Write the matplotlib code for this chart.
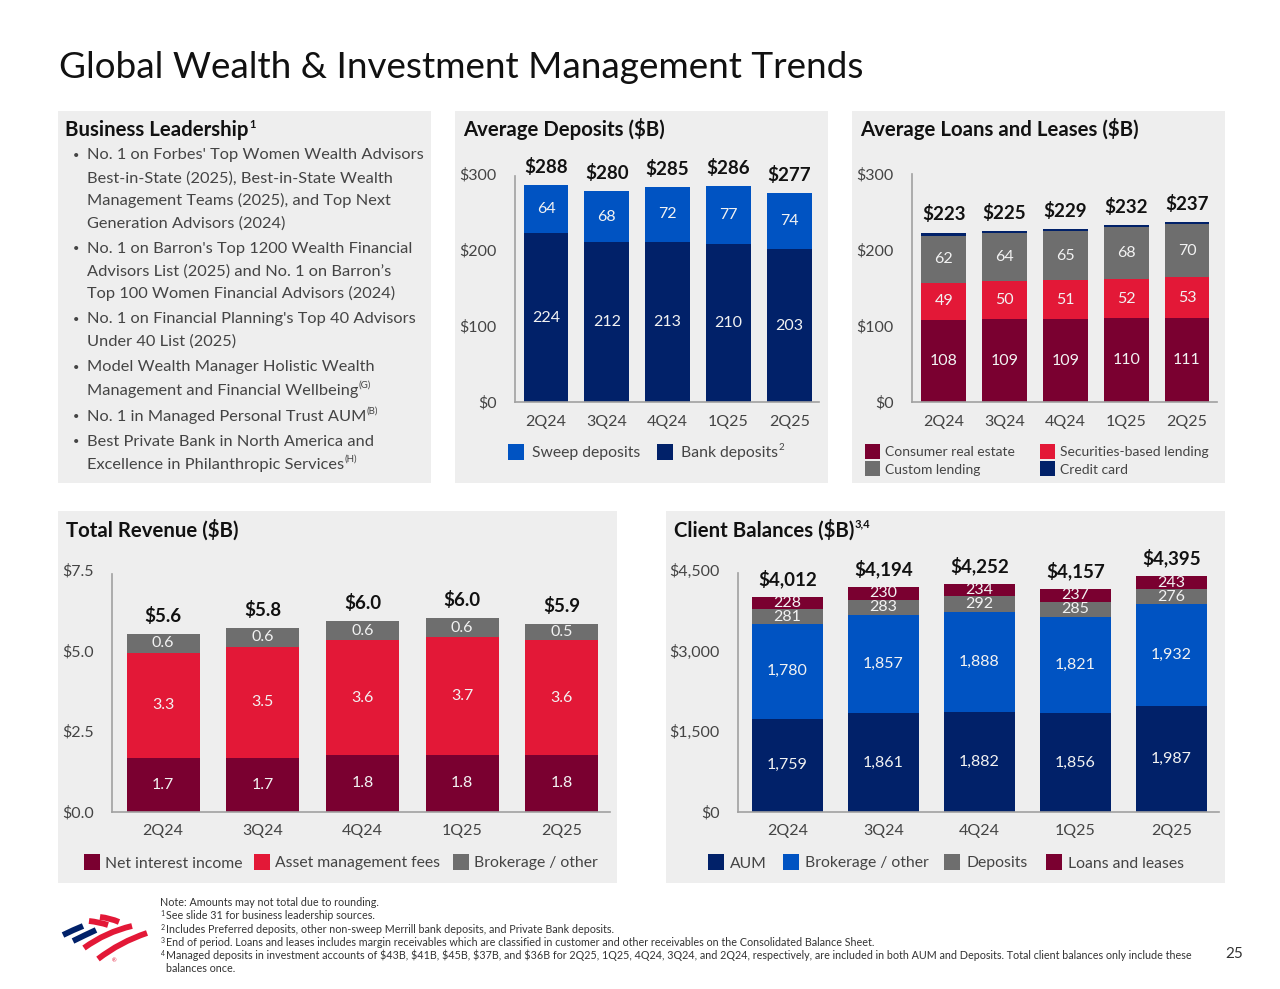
import matplotlib
matplotlib.use('Agg')
import matplotlib.pyplot as plt
from matplotlib.patches import Rectangle, PathPatch
from matplotlib.path import Path
from matplotlib.transforms import ScaledTranslation

plt.rcParams['font.family'] = ['Lato', 'DejaVu Sans']

W, H = 1280, 989
NAVY = '#012169'
BLUE = '#0053C2'
RED = '#E31837'
MAROON = '#7A0030'
GRAY = '#6E6E6E'
PANEL = '#EEEEEE'
DARK = '#111111'
TEXT = '#444444'

quarters = ['2Q24', '3Q24', '4Q24', '1Q25', '2Q25']

# Average deposits
dep_bank = [224, 212, 213, 210, 203]
dep_sweep = [64, 68, 72, 77, 74]
dep_totals = ['$288', '$280', '$285', '$286', '$277']

# Average loans and leases
loan_cre = [108, 109, 109, 110, 111]
loan_sbl = [49, 50, 51, 52, 53]
loan_custom = [62, 64, 65, 68, 70]
loan_card = [4, 2, 2, 3, 3]
loan_totals = ['$223', '$225', '$229', '$232', '$237']

# Total revenue
rev_nii = [1.7, 1.7, 1.8, 1.8, 1.8]
rev_fees = [3.3, 3.5, 3.6, 3.7, 3.6]
rev_other = [0.6, 0.6, 0.6, 0.6, 0.5]
rev_totals = ['$5.6', '$5.8', '$6.0', '$6.0', '$5.9']

# Client balances
bal_aum = [1759, 1861, 1882, 1856, 1987]
bal_brokerage = [1780, 1857, 1888, 1821, 1932]
bal_deposits = [281, 283, 292, 285, 276]
bal_loans = [228, 230, 234, 237, 243]
bal_totals = ['$4,012', '$4,194', '$4,252', '$4,157', '$4,395']

leadership = [
    ("No. 1 on Forbes' Top Women Wealth Advisors", 154, True, None),
    ("Best-in-State (2025), Best-in-State Wealth", 177, False, None),
    ("Management Teams (2025), and Top Next", 199, False, None),
    ("Generation Advisors (2024)", 222, False, None),
    ("No. 1 on Barron's Top 1200 Wealth Financial", 247, True, None),
    ("Advisors List (2025) and No. 1 on Barron’s", 270, False, None),
    ("Top 100 Women Financial Advisors (2024)", 292, False, None),
    ("No. 1 on Financial Planning's Top 40 Advisors", 318, True, None),
    ("Under 40 List (2025)", 340, False, None),
    ("Model Wealth Manager Holistic Wealth", 366, True, None),
    ("Management and Financial Wellbeing", 389, False, "(G)"),
    ("No. 1 in Managed Personal Trust AUM", 415, True, "(B)"),
    ("Best Private Bank in North America and", 440, True, None),
    ("Excellence in Philanthropic Services", 463, False, "(H)"),
]

footnotes = [
    (None, "Note: Amounts may not total due to rounding.", 902),
    ("1", "See slide 31 for business leadership sources.", 915),
    ("2", "Includes Preferred deposits, other non-sweep Merrill bank deposits, and Private Bank deposits.", 929),
    ("3", "End of period. Loans and leases includes margin receivables which are classified in customer and other receivables on the Consolidated Balance Sheet.", 942),
    ("4", "Managed deposits in investment accounts of $43B, $41B, $45B, $37B, and $36B for 2Q25, 1Q25, 4Q24, 3Q24, and 2Q24, respectively, are included in both AUM and Deposits. Total client balances only include these", 955),
    ("", "balances once.", 968),
]

fig = plt.figure(figsize=(W / 100, H / 100), dpi=100, facecolor='white')

# overlay in pixel coordinates for panels, headings and legends
bg = fig.add_axes([0, 0, 1, 1], zorder=0)
bg.set_xlim(0, W)
bg.set_ylim(H, 0)
bg.axis('off')
renderer = fig.canvas.get_renderer()


def txt(x, y, s, size=11.8, color=TEXT, weight='normal', ha='left'):
    return bg.text(x, y + 1.5, s, fontsize=size, color=color, fontweight=weight, ha=ha, va='center')


def txt_sup(x, y, s, sup, size=11.8, color=TEXT, weight='normal', sup_size=7, sup_dy=-6):
    t = txt(x, y, s, size, color, weight)
    if sup:
        right = t.get_window_extent(renderer).x1
        txt(right + 0.5, y + sup_dy, sup, sup_size, color, weight)


def legend_item(x, y, color, label, sup=None, size=11.3, box=16, gap=8):
    bg.add_patch(Rectangle((x, y - box / 2), box, box, color=color, lw=0))
    txt_sup(x + box + gap, y, label, sup, size)


def stacked(rect, ymax, ticks, ticklabels, first, step, width, series, colors, labels, totals, top_shift=0):
    left, right, top, bottom = rect
    ax = fig.add_axes([left / W, 1 - bottom / H, (right - left) / W, (bottom - top) / H], zorder=2)
    ax.patch.set_alpha(0)
    ax.set_xlim((left - first) / step, (right - first) / step)
    ax.set_ylim(0, ymax)
    base = [0] * 5
    for vals, color, lab in zip(series, colors, labels):
        ax.bar(range(5), vals, width / step, bottom=base, color=color, linewidth=0)
        if lab:
            for i, v in enumerate(vals):
                ax.text(i, base[i] + v / 2, lab.format(v), color='#F2F2F2', fontsize=11.5,
                        ha='center', va='center')
        base = [b + v for b, v in zip(base, vals)]
    for i, s in enumerate(totals):
        ax.annotate(s, (i, base[i]), xytext=(0, 13), textcoords='offset points', ha='center',
                    va='center', fontsize=13.5, fontweight='bold', color=DARK)
    ax.set_xticks(range(5))
    ax.set_xticklabels(quarters)
    ax.set_yticks(ticks)
    ax.set_yticklabels(ticklabels)
    ax.tick_params(axis='both', length=0, labelsize=11.5, labelcolor=TEXT)
    ax.tick_params(axis='x', pad=9)
    ax.tick_params(axis='y', pad=13)
    # tick labels sit a little higher than the bar scale in the slide
    for t, lab in zip(ticks, ax.get_yticklabels()):
        shift = top_shift * t / ymax / 100
        lab.set_transform(lab.get_transform() + ScaledTranslation(0, shift, fig.dpi_scale_trans))
    for s in ['top', 'right']:
        ax.spines[s].set_visible(False)
    for s in ['left', 'bottom']:
        ax.spines[s].set_color('#A0A0A0')
        ax.spines[s].set_linewidth(1.2)
    return ax


# panels
for x0, y0, x1, y1 in [(58, 111, 431, 483), (455, 111, 828, 483), (852, 111, 1225, 483),
                       (58, 511, 617, 883), (666, 511, 1225, 883)]:
    bg.add_patch(Rectangle((x0, y0), x1 - x0, y1 - y0, color=PANEL, lw=0))

txt(59, 66, 'Global Wealth & Investment Management Trends', 26.6, '#111111')

# business leadership text
txt_sup(65, 128.5, 'Business Leadership', '1', 14.7, DARK, 'bold', 8, -6)
for line, y, bullet, sup in leadership:
    if bullet:
        txt(73, y, '•', 8, TEXT)
    txt_sup(87, y, line, sup, 11.8, TEXT, 'normal', 7, -5)

# deposits
txt(463, 127.5, 'Average Deposits ($B)', 14.7, DARK, 'bold')
stacked((514.5, 819, 176, 402), 300, [0, 100, 200, 300], ['$0', '$100', '$200', '$300'],
        546, 60.8, 44.7, [dep_bank, dep_sweep], [NAVY, BLUE], ['{}', '{}'], dep_totals, top_shift=2)
legend_item(508, 452, BLUE, 'Sweep deposits')
legend_item(657, 452, NAVY, 'Bank deposits', '2')

# loans
txt(860, 127.5, 'Average Loans and Leases ($B)', 14.7, DARK, 'bold')
stacked((912, 1217, 174, 402), 300, [0, 100, 200, 300], ['$0', '$100', '$200', '$300'],
        943.8, 60.8, 44.7, [loan_cre, loan_sbl, loan_custom, loan_card],
        [MAROON, RED, GRAY, NAVY], ['{}', '{}', '{}', None], loan_totals)
legend_item(865, 451, MAROON, 'Consumer real estate', size=10, box=15, gap=5)
legend_item(865, 468, GRAY, 'Custom lending', size=10, box=15, gap=5)
legend_item(1040, 451, RED, 'Securities-based lending', size=10, box=15, gap=5)
legend_item(1040, 468, NAVY, 'Credit card', size=10, box=15, gap=5)

# revenue
txt(66, 528.5, 'Total Revenue ($B)', 14.7, DARK, 'bold')
stacked((112, 610, 573.5, 812), 7.5, [0, 2.5, 5, 7.5], ['$0.0', '$2.5', '$5.0', '$7.5'],
        163, 99.7, 73, [rev_nii, rev_fees, rev_other], [MAROON, RED, GRAY],
        ['{:.1f}', '{:.1f}', '{:.1f}'], rev_totals, top_shift=4)
legend_item(84, 862, MAROON, 'Net interest income', gap=5)
legend_item(254, 862, RED, 'Asset management fees', gap=5)
legend_item(453, 862, GRAY, 'Brokerage / other', gap=5)

# client balances
txt_sup(674, 528.5, 'Client Balances ($B)', '3,4', 14.7, DARK, 'bold', 8, -6)
stacked((738, 1219, 573, 812), 4500, [0, 1500, 3000, 4500], ['$0', '$1,500', '$3,000', '$4,500'],
        787.5, 96, 71, [bal_aum, bal_brokerage, bal_deposits, bal_loans],
        [NAVY, BLUE, GRAY, MAROON], ['{:,}', '{:,}', '{:,}', '{:,}'], bal_totals, top_shift=3)
legend_item(708, 862, NAVY, 'AUM', gap=6)
legend_item(783, 862, BLUE, 'Brokerage / other', gap=6)
legend_item(944, 862, GRAY, 'Deposits', gap=6)
legend_item(1046, 862, MAROON, 'Loans and leases', gap=6)

# footnotes
for sup, line, y in footnotes:
    if sup is None:
        txt(160, y - 1, line, 7.75, '#333333')
    else:
        txt(166.5, y - 1, line, 7.75, '#333333')
        if sup:
            txt(160.5, y - 3, sup, 5, '#333333')
txt(1225, 952, '25', 11, '#333333')

# logo
logo_blue = [[(63, 935), (73, 930), (83, 926)], [(73, 941), (85, 935), (96, 930)]]
logo_red = [[(89, 921), (99, 922), (108, 925)], [(100, 917), (110, 918), (119, 922)],
            [(84, 948), (106, 932), (132, 926)], [(98, 959), (120, 942), (147, 933)]]
for color, strokes in [(NAVY, logo_blue), (RED, logo_red)]:
    for pts in strokes:
        bg.add_patch(PathPatch(Path(pts, [Path.MOVETO, Path.CURVE3, Path.CURVE3]), fc='none',
                               ec=color, lw=4.2, capstyle='butt'))
txt(112, 959, '®', 4, RED)

fig.savefig('out.png', dpi=100)
